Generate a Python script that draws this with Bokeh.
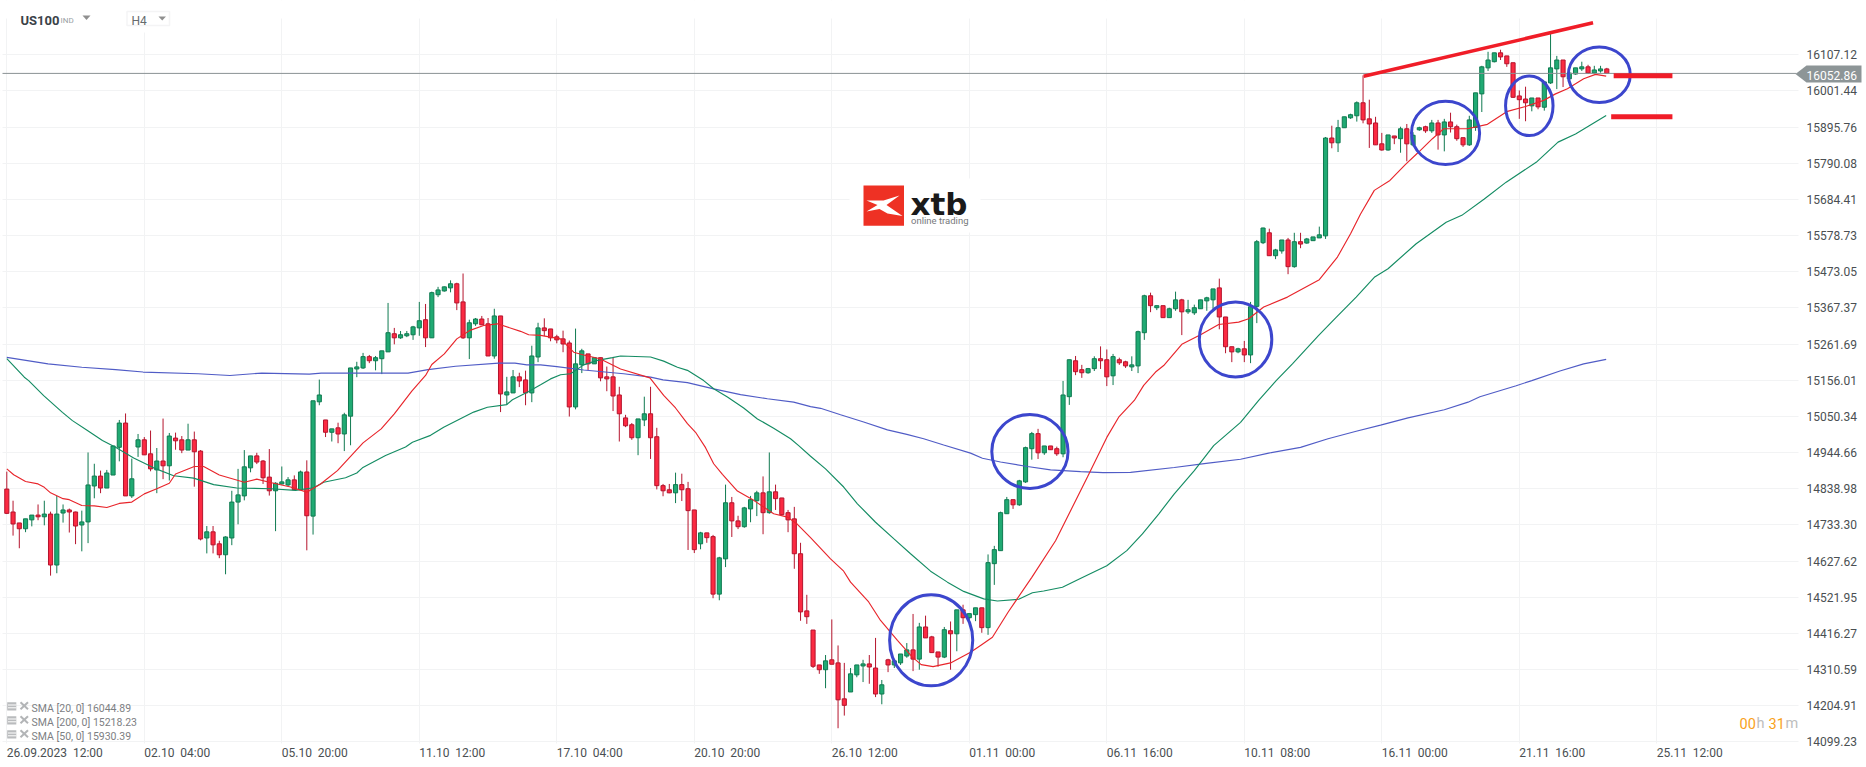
from bokeh.embed import file_html
from bokeh.models import FixedTicker, Label, PolyAnnotation, Range1d
from bokeh.plotting import figure
from bokeh.resources import INLINE

opens = [
14838,14771,14739,14722,14748,14762,14757,14765,14616,14768,
14777,14771,14733,14742,14847,14876,14841,14879,14960,15031,
14818,14961,14982,14941,14894,14920,14906,14987,14982,14952,
14982,14949,14695,14713,14678,14646,14695,14800,14818,14900,
14935,14920,14873,14833,14853,14850,14865,14836,14888,14759,
15093,15040,15004,15017,14999,15051,15189,15192,15225,15213,
15219,15239,15292,15280,15286,15289,15309,15333,15280,15406,
15417,15426,15438,15385,15280,15321,15335,15321,15227,15344,
15113,15119,15166,15157,15119,15224,15309,15306,15283,15277,
15265,15078,15201,15233,15204,15222,15166,15166,15113,15046,
15026,14988,15040,15058,14991,14848,14836,14827,14851,14839,
14777,14678,14710,14699,14531,14634,14798,14745,14728,14780,
14804,14827,14769,14830,14812,14769,14751,14649,14482,14426,
14324,14310,14339,14330,14225,14245,14295,14321,14327,14315,
14239,14339,14324,14330,14350,14368,14341,14435,14406,14362,
14347,14424,14415,14485,14462,14471,14491,14433,14620,14658,
14766,14807,14792,14859,14956,15000,14944,14964,14956,14941,
15108,15213,15187,15178,15190,15219,15216,15169,15216,15210,
15195,15198,15295,15403,15368,15374,15339,15365,15391,15356,
15353,15365,15388,15391,15426,15341,15254,15239,15248,15230,
15372,15558,15587,15520,15534,15566,15488,15561,15557,15564,
15572,15578,15864,15850,15894,15923,15929,15967,15920,15908,
15847,15829,15870,15862,15891,15844,15888,15897,15885,15908,
15873,15911,15897,15865,15844,15895,15993,16069,16087,16113,
16104,16084,15987,15978,15958,15981,15954,16025,16066,16092,
16037,16051,16066,16072,16054,16060,16066]
highs = [
14889,14804,14739,14751,14762,14793,14804,14772,14818,14793,
14781,14772,14775,14945,14912,14892,14894,14964,15040,15059,
14927,14999,14990,15009,14958,15044,15002,15003,14993,15029,
15006,14952,14730,14730,14687,14700,14833,14897,14952,14935,
14944,14923,14955,14858,14904,14873,14878,14892,14922,15096,
15158,15040,15014,15032,15061,15192,15210,15236,15230,15227,
15242,15382,15309,15300,15300,15315,15385,15379,15415,15429,
15430,15448,15441,15468,15333,15338,15344,15338,15365,15344,
15166,15186,15178,15184,15257,15324,15337,15306,15289,15301,
15272,15307,15248,15233,15224,15222,15196,15222,15137,15055,
15031,15043,15108,15137,15017,14853,14853,14886,14883,14859,
14777,14713,14710,14704,14640,14851,14815,14760,14786,14818,
14833,14875,14945,14851,14812,14777,14786,14681,14529,14426,
14324,14353,14457,14381,14330,14315,14324,14339,14353,14403,
14280,14342,14339,14356,14388,14473,14447,14468,14409,14362,
14435,14451,14485,14500,14474,14491,14491,14647,14672,14772,
14815,14807,14865,14962,15005,15014,14964,14964,14962,15154,
15216,15227,15201,15192,15226,15255,15246,15233,15222,15213,
15226,15301,15406,15412,15374,15374,15368,15415,15394,15391,
15377,15391,15400,15423,15453,15341,15254,15251,15271,15385,
15566,15602,15599,15540,15566,15572,15587,15587,15572,15575,
15605,15867,15900,15917,15926,15935,15971,16047,15976,15926,
15879,15873,15870,15897,15905,15881,15897,15900,15917,15917,
15920,15938,15903,15865,15929,15996,16075,16116,16113,16122,
16104,16084,16003,16014,15981,15981,16028,16169,16104,16092,
16054,16069,16087,16078,16075,16075,16069]
lows = [
14765,14702,14665,14712,14729,14747,14732,14585,14592,14740,
14711,14677,14656,14680,14811,14826,14841,14879,14919,14818,
14812,14932,14938,14890,14826,14867,14863,14953,14943,14952,
14845,14688,14650,14650,14636,14589,14674,14735,14805,14887,
14911,14853,14819,14715,14851,14846,14836,14836,14659,14705,
15083,14990,14977,14972,14949,14966,15165,15189,15206,15185,
15174,15239,15261,15277,15282,15274,15286,15253,15280,15399,
15415,15413,15361,15277,15218,15315,15318,15227,15219,15063,
15084,15119,15136,15083,15092,15209,15285,15270,15264,15238,
15050,15071,15177,15185,15204,15153,15124,15066,14977,15019,
14982,14937,15022,14926,14837,14817,14826,14797,14803,14660,
14651,14662,14681,14519,14513,14610,14698,14721,14725,14741,
14759,14706,14766,14777,14760,14712,14605,14453,14444,14315,
14298,14256,14326,14139,14176,14245,14288,14274,14269,14230,
14209,14303,14315,14324,14345,14306,14310,14403,14360,14319,
14344,14310,14364,14444,14455,14452,14418,14412,14558,14658,
14766,14780,14789,14856,14924,14926,14938,14953,14935,14931,
15084,15171,15163,15175,15183,15189,15139,15142,15201,15192,
15183,15177,15274,15355,15361,15339,15339,15359,15288,15350,
15347,15365,15359,15362,15305,15235,15209,15235,15209,15206,
15323,15554,15520,15510,15526,15466,15485,15542,15555,15564,
15572,15569,15834,15823,15894,15920,15912,15907,15835,15844,
15827,15827,15846,15821,15796,15840,15885,15879,15879,15830,
15825,15880,15856,15838,15841,15885,15940,16060,16085,16092,
16072,15981,15920,15913,15942,15948,15944,16022,16007,16013,
16037,16049,16060,16051,16051,16055,16051]
closes = [
14767,14736,14722,14751,14762,14757,14765,14616,14765,14777,
14771,14730,14742,14850,14876,14841,14885,14964,15031,14818,
14868,14982,14938,14897,14920,14906,14993,14979,14952,14982,
14947,14692,14713,14675,14646,14698,14800,14821,14903,14935,
14917,14871,14833,14855,14859,14865,14836,14888,14760,15096,
15113,15004,15014,14999,15055,15192,15195,15225,15213,15222,
15242,15295,15280,15289,15292,15312,15330,15280,15412,15420,
15429,15438,15382,15280,15324,15335,15318,15227,15344,15116,
15122,15166,15154,15119,15227,15309,15301,15280,15274,15262,
15078,15204,15242,15204,15222,15163,15160,15110,15058,15023,
14988,15043,15058,14988,14848,14833,14827,14851,14836,14775,
14661,14710,14696,14531,14637,14798,14745,14728,14783,14807,
14827,14769,14830,14810,14763,14748,14649,14479,14465,14320,
14310,14336,14326,14222,14206,14298,14324,14327,14318,14239,
14266,14324,14336,14356,14368,14341,14435,14403,14360,14347,
14427,14415,14485,14462,14474,14491,14433,14623,14661,14769,
14807,14792,14862,14959,15000,14944,14964,14953,14941,15113,
15216,15181,15178,15190,15219,15213,15166,15225,15207,15198,
15201,15298,15403,15374,15374,15339,15365,15391,15356,15362,
15368,15391,15397,15423,15341,15254,15239,15248,15230,15371,
15561,15601,15520,15537,15566,15488,15561,15554,15569,15575,
15581,15864,15850,15894,15926,15932,15967,15917,15905,15844,
15829,15873,15864,15891,15847,15872,15894,15885,15908,15873,
15911,15897,15862,15844,15917,15996,16072,16092,16113,16101,
16081,15983,15976,15967,15981,15955,16028,16069,16092,16043,
16054,16069,16072,16054,16063,16066,16052.86]

sma20_t = [0,1.1,3,5,6,7,9,10,12,14,16,18,20,22,24,26,27,30,31.5,34,38,40,42,
 45.4,48,50.2,52.9,57,59.9,62,64.8,67,68,70,72,74,76.3,78.5,82.2,83.5,85.4,
 88.6,90.7,92.3,94.9,98.2,102.9,105.1,107,108.9,110.2,111.8,113.1,114.5,116.9,119.5,122.7,124.9,126.5,128.6,
 131.8,133.9,135,137.9,139.8,142.5,144.9,146.3,148.2,151,154.2,155.8,157.7,160.2,164,167.8,172.9,176,177.9,
 180.4,181.9,183.8,185.1,188,191,193.9,197.1,198.7,201.1,204.9,210,212.9,215,216.6,218.8,221.3,223.8,225.9,228.1,229.9,233.7,236.9,240.1,243,245.9,247.8,249.7,252.3,254.2,255.9]
sma20_v = [14897,14880,14860,14853,14843,14827,14810,14807,14790,14789,14784,14796,14800,14824,14839,14855,14882,14904,14904,14879,14858,14867,14858,
 14844,14829,14853,14892,14973,15014,15058,15124,15170,15202,15233,15277,15301,15316,15321,15299,15289,15287,
 15277,15238,15230,15219,15189,15163,15112,15075,15029,15004,14959,14912,14881,14832,14805,14766,14756,14735,14696,
 14634,14598,14566,14508,14454,14396,14347,14325,14319,14330,14361,14381,14405,14478,14580,14687,14873,14989,15048,
 15097,15141,15180,15199,15261,15289,15319,15326,15336,15370,15399,15450,15516,15584,15642,15711,15740,15787,15823,15862,15891,15891,15904,15942,15956,15974,15993,16008,16037,16050,16045]

sma50_t = [0,2.8,3.5,5.9,8.9,10.5,12.9,15.3,17.4,20.3,23.5,26.7,29.9,33.1,36.8,42.2,
 46.2,49.1,50.7,54.2,56,56.9,60.6,63.8,64.9,67.8,69.9,74.7,76.9,80,80.9,83.5,85.4,
 87,88.6,90.2,92.3,94.5,96.9,98.2,103,105.1,107.3,108.9,111.5,113.1,115.3,117.9,120.1,122.7,125.4,126.7,128.6,
 131,133.9,136.1,139,141.9,144.6,147.8,150.5,153.1,156.3,158.5,161.9,164.1,165.9,168.9,171.6,
 176,179.2,181.7,184.3,186.8,190,193.1,197.4,200.3,203.1,205.7,209.9,212.7,215.9,218.8,221,225.5,230.3,232.8,236.4,239.9,244.7,248.2,251,255.9]
sma50_v = [15219,15165,15155,15111,15062,15038,15009,14980,14960,14929,14900,14877,14870,14851,14841,14839,
 14834,14842,14858,14871,14885,14900,14936,14961,14975,14995,15019,15063,15077,15085,15099,15123,15143,
 15160,15172,15175,15201,15214,15222,15227,15224,15212,15194,15185,15155,15131,15107,15075,15043,15016,14985,14965,14934,
 14897,14844,14795,14741,14693,14649,14598,14566,14539,14517,14511,14516,14535,14540,14551,14575,
 14614,14658,14707,14765,14824,14892,14965,15033,15097,15155,15204,15287,15340,15399,15457,15482,15555,15618,15638,15686,15735,15793,15852,15876,15930]

sma200_t = [0,6.6,12,17.4,21.8,30.6,35.7,40.8,48.4,50.3,64.2,67.4,71.8,78.7,81.3,83.2,85.4,88,92.3,98.7,103,105,108.9,113.1,117.4,121.7,125.9,128.6,
 130.2,133.4,137.1,140.9,144,146.7,149.9,154.2,156.1,159,163.3,167,171.8,175.4,179.8,186.8,191.9,197.4,
 201.9,207,211.4,215.9,219.8,224.2,230,233.8,235.7,241.5,244,248.5,252.3,255.9]
sma200_v = [15223,15204,15194,15187,15180,15175,15170,15177,15174,15177,15177,15187,15197,15206,15206,15201,15201,15196,15186,15175,15165,15157,15149,15131,15114,15102,15092,15079,
 15074,15055,15034,15011,14998,14985,14967,14943,14928,14917,14904,14894,14889,14886,14887,14901,14913,14925,
 14943,14960,14985,15007,15025,15046,15070,15092,15108,15140,15155,15183,15204,15217]

circle_t = [147.9,163.7,196.6,230.2,243.6,254.8]
circle_v = [14396,14948,15275,15879,15958,16049]
circle_w = [13.3,12.2,11.6,10.9,7.6,9.9]
circle_h = [266,216,219,185,174,162]
trend_t = [217.1,253.8]
trend_v = [16044.6,16200.7]
level_t0 = [257.1,256.7]
level_t1 = [266.5,266.5]
level_v = [16045.8,15926]

last_price = 16052.86
price_ticks = [16107.12,16001.44,15895.76,15790.08,15684.41,15578.73,15473.05,15367.37,15261.69,15156.01,
               15050.34,14944.66,14838.98,14733.30,14627.62,14521.95,14416.27,14310.59,14204.91,14099.23]
time_ticks = [0,22,44,66,88,110,132,154,176,198,220,242,264]
time_labels = ["26.09.2023  12:00","02.10  04:00","05.10  20:00","11.10  12:00","17.10  04:00","20.10  20:00",
               "26.10  12:00","01.11  00:00","06.11  16:00","10.11  08:00","16.11  00:00","21.11  16:00","25.11  12:00"]
legend_texts = ["SMA [20, 0] 16044.89","SMA [200, 0] 15218.23","SMA [50, 0] 15930.39"]

W, H = 1866, 767
FL, FR, FT, FB = 2, 1798, 18, 743
XMIN, XMAX, YMIN, YMAX = -1.008, 297.552, 14024.26, 16265.9

def dx(px):
    return XMIN + px / W * (XMAX - XMIN)

def dy(py):
    return YMAX - py / H * (YMAX - YMIN)

p = figure(width=W, height=H, output_backend="svg", toolbar_location=None,
           x_range=Range1d(XMIN, XMAX), y_range=Range1d(YMIN, YMAX),
           x_axis_location="below", y_axis_location="right",
           min_border_left=0, min_border_right=0, min_border_top=0, min_border_bottom=0,
           margin=(0, 0, 0, 0), outline_line_color=None, background_fill_color="white",
           border_fill_color="white")

# the labels start at their grid line, so the axis carries them half a label to the right of it
label_shift = {t: (7.68 if i == 0 else 5.27) for i, t in enumerate(time_ticks)}
axis_ticks = [t + label_shift[t] for t in time_ticks]

for ax, ticks in ((p.xaxis[0], axis_ticks), (p.yaxis[0], price_ticks)):
    ax.ticker = FixedTicker(ticks=ticks)
    ax.axis_line_color = None
    ax.major_tick_line_color = None
    ax.minor_tick_line_color = None
    ax.major_tick_in = 0
    ax.major_tick_out = 0
    ax.major_label_text_font = "Roboto"
    ax.major_label_text_font_size = "12px"
    ax.major_label_text_color = "#4a4f52"
p.xaxis[0].fixed_location = dy(FB)
p.yaxis[0].fixed_location = dx(FR)
p.xaxis[0].major_label_overrides = {a: l.replace("  ", "\u00a0\u00a0") for a, l in zip(axis_ticks, time_labels)}
p.xaxis[0].major_label_standoff = 2
p.yaxis[0].major_label_overrides = {t: f"{t:.2f}" for t in price_ticks}
p.yaxis[0].major_label_standoff = 8
p.xgrid[0].ticker = FixedTicker(ticks=time_ticks)
p.ygrid[0].ticker = FixedTicker(ticks=price_ticks)
p.grid.grid_line_color = "#f2f3f4"
p.grid.grid_line_width = 1

def mask(x0, x1, y0, y1):
    p.quad(left=dx(x0), right=dx(x1), top=dy(y0), bottom=dy(y1), fill_color="white", line_color=None)

# keep the grid inside the plotting area and off the logo and the time-frame box
mask(0, W, 0, FT)
mask(0, W, FB, H)
mask(0, FL, 0, H)
mask(FR, W, 0, H)
mask(849, 980, 178, 232)
mask(120, 175, FT, 32)

idx = list(range(len(opens)))
up = [i for i in idx if closes[i] >= opens[i]]
dn = [i for i in idx if closes[i] < opens[i]]
UP_F, UP_L, DN_F, DN_L = "#20aa73", "#0f7a50", "#fb2a42", "#b5142d"
for sel, fc, lc in ((up, UP_F, UP_L), (dn, DN_F, DN_L)):
    p.segment(x0=sel, x1=sel, y0=[lows[i] for i in sel], y1=[highs[i] for i in sel], line_color=lc, line_width=1)
    p.vbar(x=sel, width=0.66, top=[max(opens[i], closes[i]) for i in sel], bottom=[min(opens[i], closes[i]) for i in sel],
           fill_color=fc, line_color=lc, line_width=1)

p.line(sma200_t, sma200_v, line_color="#505cc6", line_width=1.15)
p.line(sma50_t, sma50_v, line_color="#148c63", line_width=1.15)
p.line(sma20_t, sma20_v, line_color="#e8252b", line_width=1.15)

p.segment(x0=[dx(FL)], x1=[dx(1796)], y0=[last_price], y1=[last_price], line_color="#8a9294", line_width=1)

p.ellipse(x=circle_t, y=circle_v, width=circle_w, height=circle_h, fill_color=None, line_color="#3c46cd", line_width=3)
p.line(trend_t, trend_v, line_color="#f01d28", line_width=3.5)
p.segment(x0=level_t0, x1=level_t1, y0=level_v, y1=level_v, line_color="#f01d28", line_width=5)

def poly(pts, fill, line=None):
    p.add_layout(PolyAnnotation(xs=[a for a, _ in pts], ys=[b for _, b in pts], xs_units="canvas", ys_units="canvas",
                                fill_color=fill, fill_alpha=1, line_color=line, line_width=1.5 if line else 0))

def txt(x, y, text, size, color, font="Roboto", style="normal"):
    p.add_layout(Label(x=x, y=y, x_units="canvas", y_units="canvas", text=text, text_font=font,
                       text_font_size=f"{size}px", text_color=color, text_font_style=style,
                       text_baseline="middle", text_align="left"))

# price tag
poly([(1795, 73.5), (1806, 65), (1861, 65), (1861, 82), (1806, 82)], "#8d9597")
txt(1806, 74.5, f"{last_price:.2f}", 12, "#ffffff")

# header
poly([(126.5, 11), (169, 11), (169, 25), (126.5, 25)], "#ffffff", "#d9dcde")
txt(20, 19.5, "US100", 13, "#3a4248", style="bold")
txt(60, 19.5, "IND", 8, "#9aa0a3")
poly([(82, 15), (90, 15), (86, 19.5)], "#8f8f8f")
txt(131, 20.5, "H4", 12, "#666b6e")
poly([(158, 16), (165.5, 16), (161.7, 20)], "#8f8f8f")

# logo
poly([(863, 185), (903.5, 185), (903.5, 225.3), (863, 225.3)], "#ee3124")
logo_mark = [(866, 200), (883, 200), (899, 195), (886, 204.5), (902, 215.5), (887, 213), (879, 208.5), (866, 211), (877, 204.5)]
poly(logo_mark, "#ffffff")
txt(910, 203, "xtb", 31, "#1a1a1a", font="DejaVu Sans", style="bold")
txt(910.5, 220, "online trading", 9.5, "#77797b")

# indicator legend
for i, (t, yc) in enumerate(zip(legend_texts, (707.7, 721.7, 735.7))):
    txt(31, yc, t, 10.5, "#7d8083")
    p.quad(left=dx(6.7), right=dx(15.8), top=dy(yc - 6), bottom=dy(yc + 2.3), fill_color="#b9bbbd", line_color=None)
    for off in (-3.2, -0.4):
        p.segment(x0=dx(7.5), x1=dx(15.8), y0=dy(yc + off), y1=dy(yc + off), line_color="#ffffff", line_width=1)
    p.segment(x0=[dx(20), dx(20)], x1=[dx(27.5), dx(27.5)], y0=[dy(yc - 6), dy(yc + 1)], y1=[dy(yc + 1), dy(yc - 6)],
              line_color="#b3b5b7", line_width=2)

# countdown
txt(1739, 722.5, "00", 14.5, "#f9a11b")
txt(1756, 722.5, "h", 14.5, "#bdbdbd")
txt(1768, 722.5, "31", 14.5, "#f9a11b")
txt(1785, 722.5, "m", 14.5, "#bdbdbd")

open("out.html", "w").write(file_html(p, INLINE))
